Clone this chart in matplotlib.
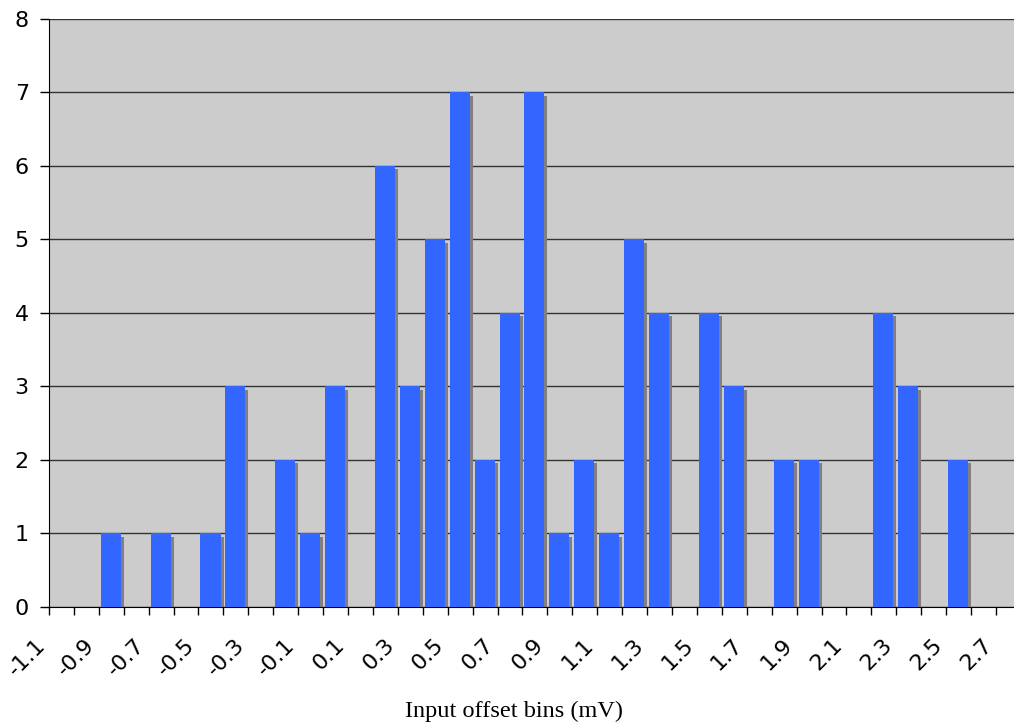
import matplotlib
matplotlib.use("Agg")
import matplotlib.pyplot as plt
import matplotlib.transforms as mtransforms
import numpy as np

# Histogram of input offset (bins 0.1 mV wide, left edges listed)
bin_left = [-1.1, -1.0, -0.9, -0.8, -0.7, -0.6, -0.5, -0.4, -0.3, -0.2,
            -0.1, 0.0, 0.1, 0.2, 0.3, 0.4, 0.5, 0.6, 0.7, 0.8,
            0.9, 1.0, 1.1, 1.2, 1.3, 1.4, 1.5, 1.6, 1.7, 1.8,
            1.9, 2.0, 2.1, 2.2, 2.3, 2.4, 2.5, 2.6]
counts = [0, 0, 1, 0, 1, 0, 1, 3, 0, 2,
          1, 3, 0, 6, 3, 5, 7, 2, 4, 7,
          1, 2, 1, 5, 4, 0, 4, 3, 0, 2,
          2, 0, 0, 4, 3, 0, 2, 0]
tick_labels = ["-1.1", "-0.9", "-0.7", "-0.5", "-0.3", "-0.1", "0.1", "0.3", "0.5", "0.7",
               "0.9", "1.1", "1.3", "1.5", "1.7", "1.9", "2.1", "2.3", "2.5", "2.7"]

plt.rcParams['axes.unicode_minus'] = False

fig = plt.figure(figsize=(10.14, 7.27), dpi=100)
ax = fig.add_axes([0.0483, 0.1651, 0.9517, 0.8088])
ax.set_facecolor("#CCCCCC")

bw = 0.1
x = np.array(bin_left)
gap = bw * 2 / 24.92       # small gap at left of each bin
width = bw * 20 / 24.92    # bar width

# shadow, shifted right and down a few pixels
shift = mtransforms.ScaledTranslation(3 / 100, -3.5 / 100, fig.dpi_scale_trans)
ax.bar(x + gap, counts, width=width, align='edge', color="#808080",
       linewidth=0, zorder=2, transform=ax.transData + shift)
ax.bar(x + gap, counts, width=width, align='edge', color="#3366FF",
       linewidth=0, zorder=3)

# gridlines
ax.set_ylim(0, 8)
ax.set_yticks(range(0, 9))
ax.yaxis.grid(True, color="#333333", linewidth=1.0, zorder=1)
ax.set_axisbelow(True)

# x ticks at every bin edge, label every other one
edges = np.round(np.append(x, x[-1] + bw), 1)
ax.set_xlim(-1.1, -1.1 + (1014 - 49) / 24.92 * bw)
ax.set_xticks(edges)
labels = []
for i in range(len(edges)):
    labels.append(tick_labels[i // 2] if i % 2 == 0 else "")
ax.set_xticklabels(labels, rotation=45, ha='right', va='top')

ax.tick_params(axis='x', length=6, width=1, pad=14, labelsize=16)
ax.tick_params(axis='y', length=6.5, width=1, pad=8, labelsize=16)

for side in ['top', 'right']:
    ax.spines[side].set_visible(False)
ax.spines['left'].set_color("#000000")
ax.spines['bottom'].set_color("#000000")

fig.text(514 / 1014, 1 - 711 / 727, "Input offset bins (mV)", ha='center', va='center',
         fontsize=17.5, family="Liberation Serif")

fig.savefig("out.png", dpi=100)
